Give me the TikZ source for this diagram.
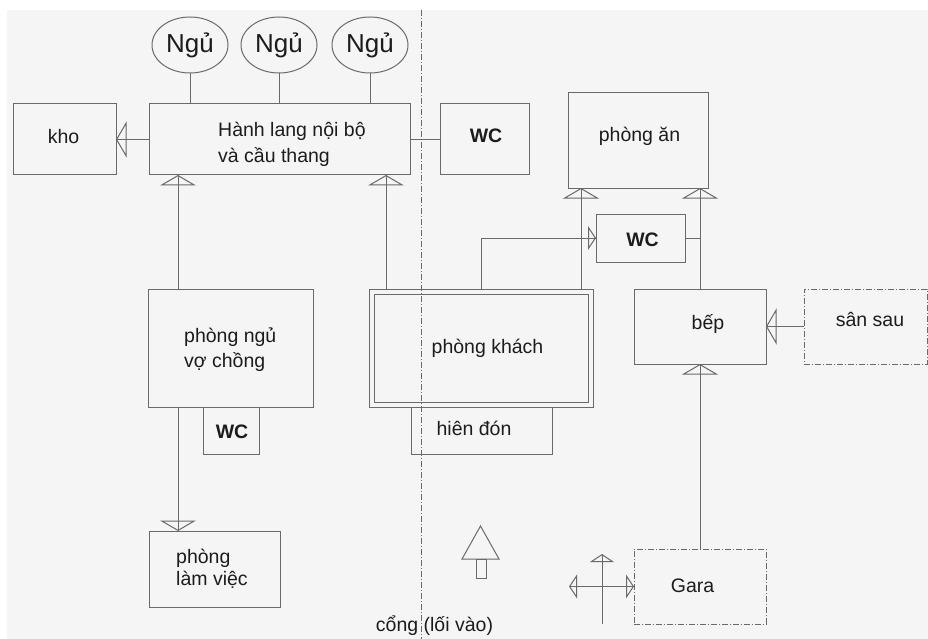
\documentclass[tikz,border=0pt]{standalone}
\usepackage{fontspec}
\setmainfont{Liberation Sans}
\usetikzlibrary{arrows.meta,shapes.geometric,calc}
\definecolor{bg}{HTML}{F5F5F5}
\definecolor{ln}{HTML}{6A6A6A}
\definecolor{tx}{HTML}{1C1C1C}
\begin{document}
\begin{tikzpicture}[x=1pt,y=-1pt,
 box/.style={draw=ln, line width=1pt, rectangle, inner sep=0pt, outer sep=0pt},
 dbox/.style={box, dash pattern=on 6pt off 2pt on 1pt off 2pt},
 oval/.style={draw=ln, line width=1pt, ellipse, minimum width=76pt, minimum height=56pt, inner sep=0pt, outer sep=0pt, text=tx, font=\fontsize{26}{30}\selectfont},
 lbl/.style={text=tx, inner sep=0pt, font=\fontsize{19.5}{26}\selectfont, anchor=base},
 lblw/.style={lbl, anchor=base west},
 wc/.style={lbl, font=\fontsize{19.5}{26}\selectfont\bfseries},
 con/.style={draw=ln, line width=1pt},
 big/.style={con, postaction={draw=ln, -{Triangle[open, length=10.5pt, width=36pt]}}},
 small/.style={con, postaction={draw=ln, -{Triangle[open, length=8pt, width=24pt]}}},
 smallboth/.style={con, postaction={draw=ln, {Triangle[open, length=8pt, width=24pt]}-{Triangle[open, length=8pt, width=24pt]}}},
]
% background
\useasboundingbox (0,0) rectangle (928,639);
\fill[white] (0,0) rectangle (928,639);
\fill[bg] (7,10) rectangle (928,639);

% axis line
\coordinate (axT) at (421.5,10);
\coordinate (axB) at (421.5,639);
\draw[ln, line width=1pt, dash pattern=on 6pt off 2pt on 1pt off 2pt] (axT) -- (axB);

% ellipses
\node[oval] (n1) at (190,45) {Ngủ};
\node[oval] (n2) at (279,45) {Ngủ};
\node[oval] (n3) at (370,45) {Ngủ};

% boxes
\node[box, minimum width=103pt, minimum height=71pt] (kho) at (64.5,139.5) {};
\node[box, minimum width=261pt, minimum height=71pt] (hl) at (279.5,139.5) {};
\node[box, minimum width=89pt, minimum height=71pt] (wc1) at (484.5,139.5) {};
\node[box, minimum width=140pt, minimum height=95pt] (an) at (638,140.5) {};
\node[box, minimum width=89pt, minimum height=48pt] (wc2) at (640.5,238) {};
\node[box, minimum width=165pt, minimum height=118pt] (pn) at (230.5,348) {};
\node[box, minimum width=224pt, minimum height=118pt] (pk) at (481,348) {};
\draw[con] ([shift={(5,5)}]pk.north west) rectangle ([shift={(-5,-5)}]pk.south east);
\node[box, minimum width=141pt, minimum height=47pt] (hd) at (481.5,430.5) {};
\node[box, minimum width=56pt, minimum height=47pt] (wc3) at (231,430.5) {};
\node[box, minimum width=131pt, minimum height=76pt] (lv) at (214.5,569) {};
\node[box, minimum width=132pt, minimum height=75pt] (bep) at (700,326.5) {};
\node[dbox, minimum width=123pt, minimum height=75pt] (ss) at (865.5,326.5) {};
\node[dbox, minimum width=132pt, minimum height=75pt] (gara) at (700,586.5) {};

% labels
\node[lbl] (khot) at (63.5,144) {kho};
\node[lblw] (hlt1) at (218,137) {Hành lang nội bộ};
\node[lblw] (hlt2) at (218,163) {và cầu thang};
\node[wc] (wc1t) at (486,143) {WC};
\node[lbl] (ant) at (639.5,142) {phòng ăn};
\node[wc] (wc2t) at (642.5,246) {WC};
\node[lblw] (pnt1) at (184,342) {phòng ngủ};
\node[lblw] (pnt2) at (184,367) {vợ chồng};
\node[lbl] (pkt) at (487.5,353) {phòng khách};
\node[wc] (wc3t) at (232,438) {WC};
\node[lbl] (hdt) at (474,435) {hiên đón};
\node[lblw] (lvt1) at (176,563) {phòng};
\node[lblw] (lvt2) at (176,585) {làm việc};
\node[lbl] (bept) at (708,329) {bếp};
\node[lbl] (sst) at (870,326) {sân sau};
\node[lbl] (garat) at (692.5,592) {Gara};
\node[lbl] (cong) at (434.5,631) {cổng (lối vào)};

% connectors
\draw[con] (n1.south) -- (n1.south |- hl.north);
\draw[con] (n2.south) -- (n2.south |- hl.north);
\draw[con] (n3.south) -- (n3.south |- hl.north);
\draw[big] (hl.west) -- (kho.east);
\draw[con] (hl.east) -- (wc1.west);

\coordinate (pnA) at ([shift={(30,0)}]pn.north west);
\draw[big] (pnA) -- (pnA |- hl.south);
\coordinate (pnB) at ([shift={(30,0)}]pn.south west);
\draw[big] (pnB) -- (pnB |- lv.north);

\coordinate (pkA) at ([shift={(17,0)}]pk.north west);
\draw[big] (pkA) -- (pkA |- hl.south);
\coordinate (pkB) at ([shift={(112,0)}]pk.north west);
\draw[small] (pkB) |- (wc2.west);
\coordinate (pkC) at ([shift={(212,0)}]pk.north west);
\draw[big] (pkC) -- (pkC |- an.south);

\draw[con] (wc2.east) -- (wc2.east -| bep.north);
\draw[big] (bep.north) -- (bep.north |- an.south);
\draw[big] (ss.west) -- (bep.east);
\draw[big] (gara.north) -- (bep.south);

% garage access symbol
\coordinate (gl) at ([shift={(-65,0)}]gara.west);
\draw[smallboth] (gl) -- (gara.west);
\coordinate (gvt) at (602,554);
\coordinate (gvb) at (602,624);
\draw[small] (gvb) -- (gvt);

% entrance arrow
\draw[con] (462,559) -- (480.5,526) -- (499,559) -- cycle;
\draw[con] (476,559) rectangle (486,578);
\end{tikzpicture}
\end{document}
